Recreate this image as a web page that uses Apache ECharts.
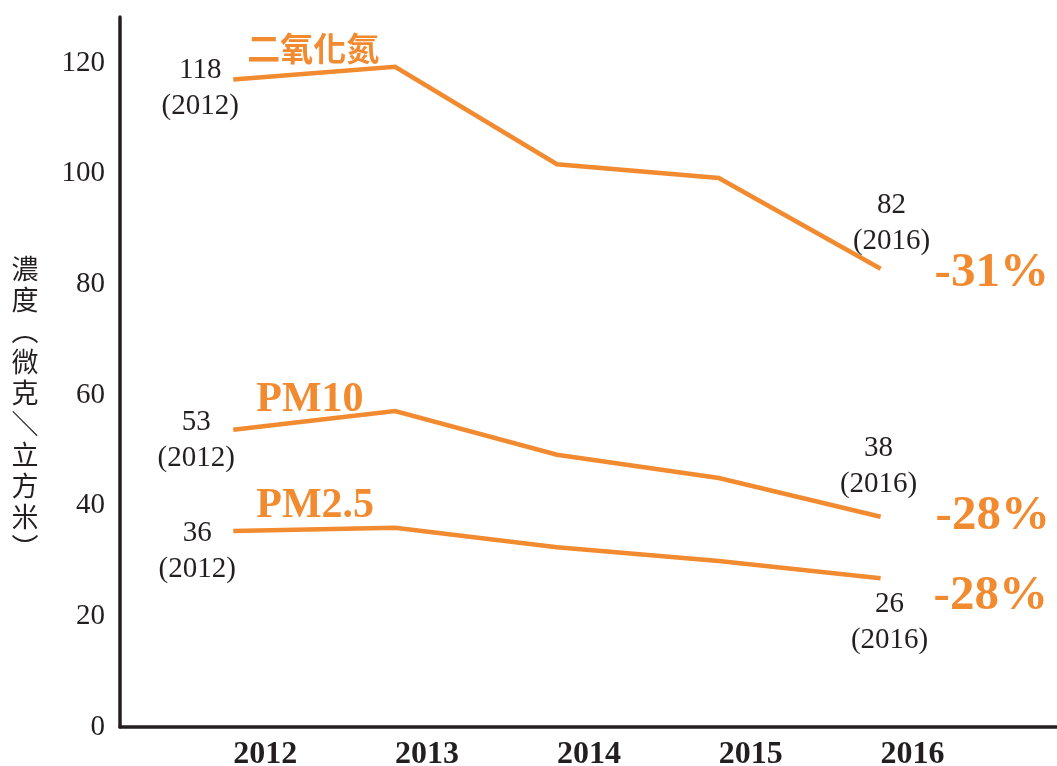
<!DOCTYPE html>
<html>
<head>
<meta charset="utf-8">
<script src="https://cdn.jsdelivr.net/npm/echarts@6/dist/echarts.min.js"></script>
<style>
  html, body { margin: 0; background: #fff; }
  #chart { width: 1057px; height: 766px; }
</style>
</head>
<body>
<div id="chart"></div>
<script>
// data
const years = [2012, 2013, 2014, 2015, 2016]
const seriesNames = ['二氧化氮', 'PM10', 'PM2.5']
const no2 = [117, 119.3, 101.7, 99.2, 82.8]
const pm10 = [53.7, 57.1, 49.2, 45, 38]
const pm25 = [35.4, 36, 32.5, 30, 26.9]
const startLabels = ['118', '53', '36']
const endLabels = ['82', '38', '26']
const changes = ['-31%', '-28%', '-28%']
const yAxisTitle = '濃度︵微克＼立方米︶'

const ORANGE = '#f28a30'
const INK = '#231f20'
const serif = '"Liberation Serif", "DejaVu Serif", serif'
const cjk = '"Noto Sans CJK TC", "Noto Sans CJK SC", sans-serif'

// label offsets per series (pixels)
const layout = [
  { start: [-33, 9], end: [11, -45], name: [14, -31], change: [54, 5] },
  { start: [-37, 11], end: [-2, -50], name: [23, -30], change: [55, 0] },
  { start: [-36, 20], end: [9, 44], name: [23, -25], change: [53, 18] }
]

const makeSeries = (i, values) => {
  const pos = layout[i]
  const last = values.length - 1
  const data = values.map((v, k) => {
    const item = { value: [years[k], v] }
    if (k === 0 || k === last) {
      item.label = {
        show: true,
        position: 'inside',
        offset: k === 0 ? pos.start : pos.end,
        formatter: (k === 0 ? startLabels[i] : endLabels[i]) + '\n(' + years[k] + ')'
      }
    }
    return item
  })
  return {
    type: 'line',
    name: seriesNames[i],
    data: data,
    symbolSize: 0,
    silent: true,
    lineStyle: { color: ORANGE, width: 4.5, cap: 'butt', join: 'miter' },
    itemStyle: { color: ORANGE },
    label: {
      show: false,
      fontFamily: serif,
      fontSize: 29,
      lineHeight: 36,
      color: INK,
      align: 'center',
      verticalAlign: 'middle'
    },
    endLabel: {
      show: true,
      formatter: changes[i],
      distance: 0,
      offset: pos.change,
      color: ORANGE,
      fontFamily: serif,
      fontWeight: 'bold',
      fontSize: 49
    },
    markPoint: {
      symbolSize: 0,
      silent: true,
      data: [{
        coord: [years[0], values[0]],
        label: {
          show: true,
          position: 'right',
          distance: 0,
          offset: pos.name,
          formatter: seriesNames[i],
          color: ORANGE,
          fontWeight: 'bold',
          fontFamily: i === 0 ? cjk : serif,
          fontSize: i === 0 ? 33 : 42
        }
      }]
    }
  }
}

const chart = echarts.init(document.getElementById('chart'))
chart.setOption({
  animation: false,
  grid: { left: 120, right: 0, top: 17, bottom: 39, outerBoundsMode: 'none' },
  xAxis: {
    type: 'value',
    min: 2011.3,
    max: 2017.09,
    axisLine: { show: true, lineStyle: { color: INK, width: 3.5 } },
    axisTick: { show: false },
    splitLine: { show: false },
    axisLabel: {
      customValues: years,
      formatter: v => String(v),
      align: 'left',
      margin: 12,
      color: INK,
      fontFamily: serif,
      fontWeight: 'bold',
      fontSize: 32
    }
  },
  yAxis: {
    type: 'value',
    min: 0,
    max: 128.3,
    interval: 20,
    axisLine: { show: true, lineStyle: { color: INK, width: 3.5 } },
    axisTick: { show: false },
    splitLine: { show: false },
    axisLabel: {
      showMaxLabel: false,
      margin: 15,
      color: INK,
      fontFamily: serif,
      fontSize: 29
    }
  },
  graphic: [{
    type: 'text',
    x: 25,
    y: 253,
    style: {
      text: yAxisTitle.split('').join('\n'),
      fill: INK,
      font: '27px ' + cjk,
      lineHeight: 31,
      textAlign: 'center'
    }
  }],
  series: [makeSeries(0, no2), makeSeries(1, pm10), makeSeries(2, pm25)]
})
</script>
</body>
</html>
